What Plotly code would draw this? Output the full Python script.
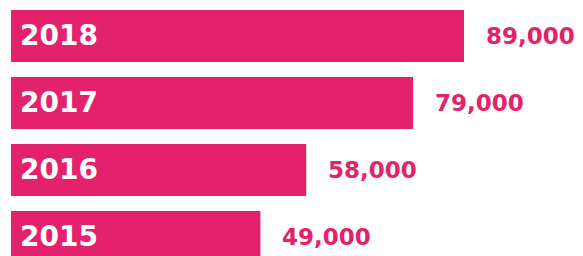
import plotly.graph_objects as go

years = ["2015", "2016", "2017", "2018"]
values = [49000, 58000, 79000, 89000]
value_labels = ["49,000", "58,000", "79,000", "89,000"]

PINK = "#E4226C"

fig = go.Figure()
fig.add_trace(go.Bar(
    y=years, x=values, orientation="h",
    marker=dict(color=PINK, line=dict(width=0)),
    hoverinfo="skip",
))

annotations = []
for i, (yr, v, lab) in enumerate(zip(years, values, value_labels)):
    annotations.append(dict(
        x=0, y=i, xref="x", yref="y", text=yr, showarrow=False,
        xanchor="left", yanchor="middle", xshift=7,
        font=dict(family="DejaVu Sans", size=28, color="white", weight="bold"),
    ))
    annotations.append(dict(
        x=v, y=i, xref="x", yref="y", text=lab, showarrow=False,
        xanchor="left", yanchor="middle", xshift=20,
        font=dict(family="DejaVu Sans", size=23, color=PINK, weight="bold"),
    ))

fig.update_layout(
    width=583, height=256,
    margin=dict(l=0, r=0, t=0, b=0),
    paper_bgcolor="white", plot_bgcolor="white",
    showlegend=False, bargap=0.224,
    annotations=annotations,
    xaxis=dict(range=[-2161, 112380], visible=False, showgrid=False, zeroline=False),
    yaxis=dict(type="category", range=[-0.284, 3.537], visible=False, showgrid=False,
               categoryorder="array", categoryarray=years),
)

fig.write_html(
    "out.html",
    config={"displayModeBar": False, "staticPlot": True},
    post_script="document.body.style.margin='0';document.body.style.overflow='hidden';",
)
